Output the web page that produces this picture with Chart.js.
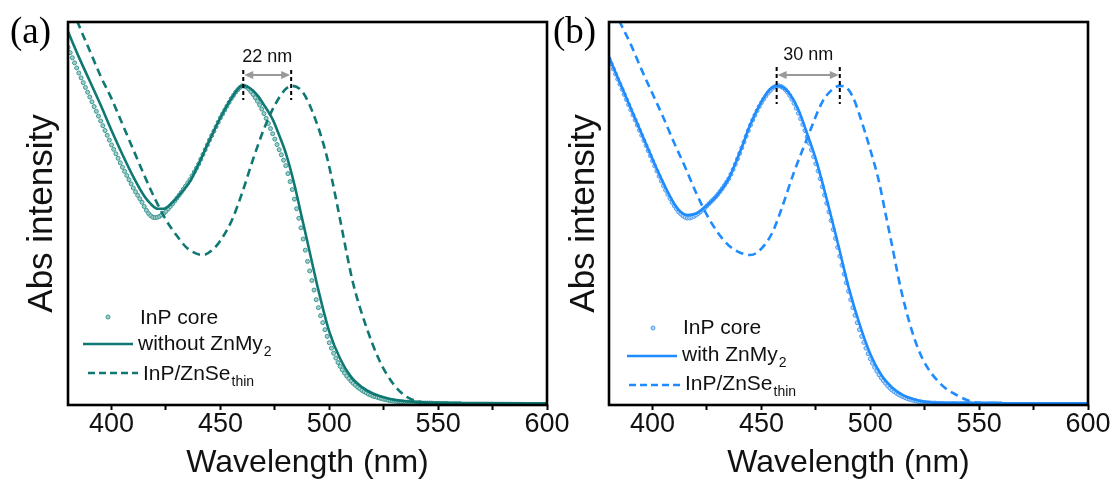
<!DOCTYPE html>
<html>
<head>
<meta charset="utf-8">
<script src="https://cdn.jsdelivr.net/npm/chart.js@4.4.1/dist/chart.umd.min.js"></script>
<style>
  html, body { margin: 0; padding: 0; background: #fff; }
  #wrap { position: relative; width: 1118px; height: 490px; overflow: hidden; background: #fff; }
  canvas { position: absolute; top: 0; }
  #chartA { left: 0; }
  #chartB { left: 545px; }
</style>
</head>
<body>
<div id="wrap">
  <canvas id="chartA" width="580" height="490"></canvas>
  <canvas id="chartB" width="573" height="490"></canvas>
</div>
<script>
// x axis
const xMin = 380;
const xMax = 600;
const xTicks = [400, 425, 450, 475, 500, 525, 550, 575, 600];

// InP core, sampled every nm from 380 to 560
const coreStart = 380;
const coreA = [
  1.120, 1.104, 1.088, 1.072, 1.056, 1.040, 1.025, 1.010, 0.995, 0.980,
  0.965, 0.950, 0.935, 0.920, 0.905, 0.890, 0.875, 0.860, 0.845, 0.830,
  0.815, 0.801, 0.787, 0.773, 0.759, 0.745, 0.732, 0.719, 0.706, 0.693,
  0.680, 0.668, 0.657, 0.646, 0.635, 0.622, 0.610, 0.600, 0.593, 0.588,
  0.587, 0.588, 0.591, 0.595, 0.600, 0.607, 0.614, 0.622, 0.630, 0.639,
  0.648, 0.657, 0.666, 0.676, 0.686, 0.696, 0.706, 0.718, 0.730, 0.742,
  0.755, 0.770, 0.785, 0.800, 0.815, 0.830, 0.844, 0.858, 0.872, 0.886,
  0.900, 0.912, 0.924, 0.936, 0.948, 0.960, 0.970, 0.980, 0.988, 0.995,
  1.000, 0.999, 0.996, 0.990, 0.982, 0.973, 0.963, 0.952, 0.940, 0.927,
  0.913, 0.898, 0.882, 0.866, 0.850, 0.833, 0.816, 0.800, 0.784, 0.767,
  0.750, 0.725, 0.700, 0.675, 0.645, 0.615, 0.585, 0.555, 0.520, 0.485,
  0.450, 0.420, 0.390, 0.360, 0.330, 0.305, 0.280, 0.258, 0.236, 0.215,
  0.195, 0.178, 0.162, 0.147, 0.133, 0.121, 0.110, 0.100, 0.091, 0.083,
  0.075, 0.068, 0.062, 0.056, 0.051, 0.046, 0.042, 0.038, 0.034, 0.031,
  0.028, 0.026, 0.024, 0.022, 0.020, 0.018, 0.017, 0.015, 0.014, 0.013,
  0.012, 0.011, 0.011, 0.010, 0.010, 0.009, 0.009, 0.008, 0.008, 0.008,
  0.007, 0.007, 0.007, 0.006, 0.006, 0.006, 0.006, 0.006, 0.005, 0.005,
  0.005, 0.005, 0.005, 0.005, 0.005, 0.004, 0.004, 0.004, 0.004, 0.004, 0.004
];
const coreB = [
  1.085, 1.069, 1.053, 1.037, 1.021, 1.005, 0.989, 0.973, 0.957, 0.941,
  0.925, 0.909, 0.893, 0.877, 0.861, 0.845, 0.829, 0.813, 0.797, 0.781,
  0.765, 0.749, 0.733, 0.717, 0.702, 0.687, 0.673, 0.660, 0.647, 0.635,
  0.624, 0.614, 0.605, 0.598, 0.592, 0.588, 0.586, 0.586, 0.588, 0.591,
  0.595, 0.600, 0.605, 0.611, 0.617, 0.624, 0.631, 0.638, 0.645, 0.652,
  0.660, 0.669, 0.678, 0.688, 0.698, 0.709, 0.723, 0.738, 0.754, 0.771,
  0.788, 0.806, 0.824, 0.842, 0.860, 0.877, 0.893, 0.908, 0.922, 0.935,
  0.947, 0.958, 0.968, 0.977, 0.985, 0.992, 0.997, 1.000, 1.000, 0.998,
  0.994, 0.988, 0.980, 0.970, 0.958, 0.945, 0.930, 0.914, 0.897, 0.879,
  0.860, 0.840, 0.820, 0.799, 0.778, 0.756, 0.733, 0.709, 0.684, 0.658,
  0.632, 0.605, 0.578, 0.550, 0.522, 0.494, 0.466, 0.438, 0.410, 0.383,
  0.356, 0.330, 0.305, 0.281, 0.258, 0.236, 0.215, 0.196, 0.178, 0.161,
  0.145, 0.131, 0.118, 0.106, 0.095, 0.085, 0.076, 0.068, 0.060, 0.053,
  0.047, 0.042, 0.037, 0.033, 0.029, 0.026, 0.023, 0.020, 0.018, 0.016,
  0.014, 0.013, 0.011, 0.010, 0.009, 0.008, 0.007, 0.007, 0.006, 0.006,
  0.006, 0.005, 0.005, 0.005, 0.005, 0.005, 0.005, 0.005, 0.005, 0.005,
  0.005, 0.005, 0.005, 0.005, 0.005, 0.005, 0.005, 0.004, 0.004, 0.004,
  0.004, 0.004, 0.004, 0.004, 0.004, 0.004, 0.004, 0.004, 0.004, 0.004, 0.004
];

// (a) without ZnMy2
const solidA_nm  = [380, 385, 390, 395, 400, 405, 410, 415, 418, 421, 424, 428, 432, 436, 440, 445, 450, 455, 460, 463, 467, 470, 474, 477, 480, 484, 487, 490, 495, 500, 505, 510, 515, 520, 525, 530, 535, 540, 550, 570, 600];
const solidA_val = [1.17, 1.09, 1.015, 0.94, 0.86, 0.785, 0.715, 0.655, 0.63, 0.615, 0.615, 0.635, 0.665, 0.70, 0.755, 0.83, 0.90, 0.96, 1.0, 0.995, 0.97, 0.94, 0.895, 0.845, 0.79, 0.69, 0.60, 0.51, 0.36, 0.23, 0.145, 0.088, 0.056, 0.036, 0.024, 0.016, 0.012, 0.009, 0.007, 0.006, 0.005];

// (a) InP/ZnSe thin
const dashA_nm  = [380, 385, 390, 395, 400, 405, 410, 415, 420, 425, 430, 435, 442, 447, 450, 455, 460, 465, 470, 475, 480, 483, 488, 494, 499, 504, 507, 511, 517, 523, 529, 535, 543, 550, 600];
const dashA_val = [1.28, 1.19, 1.11, 1.03, 0.96, 0.88, 0.80, 0.72, 0.645, 0.58, 0.53, 0.49, 0.47, 0.49, 0.515, 0.575, 0.665, 0.77, 0.865, 0.94, 0.99, 1.0, 0.978, 0.888, 0.775, 0.615, 0.51, 0.38, 0.245, 0.14, 0.07, 0.028, 0.008, 0.005, 0.004];

// (b) with ZnMy2
const solidB_nm  = [380, 385, 390, 395, 400, 405, 410, 413, 416, 420, 425, 430, 435, 440, 445, 450, 454, 457, 460, 463, 467, 471, 475, 480, 485, 490, 495, 500, 505, 510, 515, 520, 525, 530, 540, 600];
const solidB_val = [1.09, 1.01, 0.93, 0.85, 0.77, 0.695, 0.63, 0.605, 0.595, 0.60, 0.625, 0.66, 0.71, 0.79, 0.88, 0.95, 0.99, 1.0, 0.995, 0.975, 0.925, 0.85, 0.77, 0.645, 0.51, 0.37, 0.255, 0.16, 0.095, 0.055, 0.031, 0.018, 0.01, 0.007, 0.005, 0.005];

// (b) InP/ZnSe thin
const dashB_nm  = [380, 385, 390, 395, 400, 405, 410, 415, 420, 425, 430, 435, 440, 445, 450, 455, 459, 465, 471, 478, 482, 486, 489, 492, 495, 500, 504, 507, 510, 514, 519, 524, 532, 540, 547, 555, 600];
const dashB_val = [1.28, 1.2, 1.13, 1.05, 0.975, 0.90, 0.82, 0.745, 0.665, 0.595, 0.54, 0.50, 0.478, 0.47, 0.49, 0.54, 0.61, 0.73, 0.835, 0.95, 0.985, 1.0, 0.995, 0.965, 0.91, 0.80, 0.70, 0.60, 0.50, 0.365, 0.235, 0.145, 0.068, 0.03, 0.01, 0.006, 0.005];

// peak shift markers (nm) and their labels
const shiftA = [460.5, 482.5];
const shiftB = [457, 486];
const shiftLabelA = '22 nm';
const shiftLabelB = '30 nm';

const legendA = [['InP core', ''], ['without ZnMy', '2'], ['InP/ZnSe', 'thin']];
const legendB = [['InP core', ''], ['with ZnMy', '2'], ['InP/ZnSe', 'thin']];

const SANS = '"Liberation Sans", Arial, sans-serif';

function toPoints(nm, val) {
    return nm.map((x, i) => ({ x: x, y: val[i] }));
}

function corePoints(vals) {
    return vals.map((v, i) => ({ x: coreStart + i, y: v }));
}

function richText(ctx, x, y, main, sub, size) {
    ctx.font = size + 'px ' + SANS;
    ctx.textAlign = 'left';
    ctx.textBaseline = 'middle';
    ctx.fillText(main, x, y);
    if (sub) {
        const w = ctx.measureText(main).width;
        ctx.font = Math.round(size * 0.66) + 'px ' + SANS;
        ctx.fillText(sub, x + w + 1, y + size * 0.38);
    }
}

// frame, panel letter, peak shift arrow and legend
const decorPlugin = {
    id: 'decor',
    afterDraw(chart, args, o) {
        const { ctx, chartArea: a, scales } = chart;
        const x = scales.x;
        ctx.save();

        ctx.strokeStyle = '#000';
        ctx.lineWidth = 2.6;
        ctx.strokeRect(a.left, a.top, a.right - a.left, a.bottom - a.top);

        ctx.fillStyle = '#000';
        ctx.font = '37px "Liberation Serif", "Times New Roman", serif';
        ctx.textAlign = 'left';
        ctx.textBaseline = 'middle';
        ctx.fillText(o.letter, o.letterX, 33);

        // peak shift
        const x1 = x.getPixelForValue(o.shift[0]);
        const x2 = x.getPixelForValue(o.shift[1]);
        const yA = o.arrowY;
        ctx.setLineDash([4, 3]);
        ctx.lineWidth = 2;
        o.shift.forEach(s => {
            const px = x.getPixelForValue(s);
            ctx.beginPath();
            ctx.moveTo(px, o.markTop);
            ctx.lineTo(px, o.markBottom);
            ctx.stroke();
        });
        ctx.setLineDash([]);
        ctx.strokeStyle = '#999';
        ctx.fillStyle = '#999';
        ctx.lineWidth = 2;
        ctx.beginPath();
        ctx.moveTo(x1 + 6, yA);
        ctx.lineTo(x2 - 6, yA);
        ctx.stroke();
        [[x1, 1], [x2, -1]].forEach(([px, d]) => {
            ctx.beginPath();
            ctx.moveTo(px + 1 * d, yA);
            ctx.lineTo(px + 10 * d, yA - 4);
            ctx.lineTo(px + 10 * d, yA + 4);
            ctx.closePath();
            ctx.fill();
        });
        ctx.fillStyle = '#111';
        ctx.font = '18px ' + SANS;
        ctx.textAlign = 'center';
        ctx.fillText(o.shiftLabel, (x1 + x2) / 2, o.labelY);

        // legend
        const lg = o.legend;
        ctx.fillStyle = o.dotFill;
        ctx.strokeStyle = o.dotEdge;
        ctx.lineWidth = 1;
        ctx.beginPath();
        ctx.arc(lg.dot[0], lg.dot[1], 2, 0, Math.PI * 2);
        ctx.fill();
        ctx.stroke();
        ctx.strokeStyle = o.color;
        ctx.lineWidth = 2.6;
        ctx.beginPath();
        ctx.moveTo(lg.solid[0], lg.solid[2]);
        ctx.lineTo(lg.solid[1], lg.solid[2]);
        ctx.stroke();
        ctx.setLineDash([7, 4]);
        ctx.beginPath();
        ctx.moveTo(lg.dash[0], lg.dash[2]);
        ctx.lineTo(lg.dash[1], lg.dash[2]);
        ctx.stroke();
        ctx.setLineDash([]);
        ctx.fillStyle = '#111';
        lg.text.forEach((t, i) => {
            richText(ctx, t[0], t[1], o.entries[i][0], o.entries[i][1], 21);
        });
        ctx.restore();
    }
};

function makePanel(id, p) {
    const datasets = [
        {
            label: 'InP core',
            data: corePoints(p.core),
            showLine: false,
            pointRadius: 2,
            pointBorderWidth: 1,
            pointBackgroundColor: p.dotFill,
            pointBorderColor: p.dotEdge,
            order: 3
        },
        {
            label: 'solid',
            data: toPoints(p.solid[0], p.solid[1]),
            borderColor: p.color,
            borderWidth: 2.6,
            pointRadius: 0,
            cubicInterpolationMode: 'monotone',
            order: 1
        },
        {
            label: 'dash',
            data: toPoints(p.dash[0], p.dash[1]),
            borderColor: p.color,
            borderWidth: 2.6,
            borderDash: [8, 5],
            pointRadius: 0,
            cubicInterpolationMode: 'monotone',
            order: 2
        }
    ];

    return new Chart(document.getElementById(id), {
        type: 'line',
        data: { datasets },
        options: {
            responsive: false,
            animation: false,
            events: [],
            layout: { padding: { top: 22, right: p.padRight, left: 0, bottom: 0 } },
            scales: {
                x: {
                    type: 'linear',
                    min: xMin,
                    max: xMax,
                    afterBuildTicks: s => {
                        s.ticks = xTicks.map(v => ({ value: v }));
                    },
                    afterFit: s => { s.height = 85; },
                    ticks: {
                        autoSkip: false,
                        maxRotation: 0,
                        color: '#111',
                        padding: -2,
                        font: { size: 27, family: SANS },
                        callback: v => (v % 50 === 0 ? v : '')
                    },
                    grid: {
                        drawOnChartArea: false,
                        drawTicks: true,
                        tickLength: 5,
                        tickWidth: 2,
                        tickColor: '#000'
                    },
                    border: { display: false },
                    title: {
                        display: true,
                        text: 'Wavelength (nm)',
                        color: '#111',
                        font: { size: 32, family: SANS },
                        padding: { top: 0, bottom: 8 }
                    }
                },
                y: {
                    min: 0,
                    max: 1.2,
                    afterFit: s => { s.width = p.axisWidth; },
                    ticks: { display: false },
                    grid: { display: false },
                    border: { display: false },
                    title: {
                        display: true,
                        text: 'Abs intensity',
                        color: '#111',
                        font: { size: 35, family: SANS },
                        padding: { top: p.titlePad, bottom: 0 }
                    }
                }
            },
            plugins: {
                legend: { display: false },
                tooltip: { enabled: false },
                decor: p.decor
            }
        },
        plugins: [decorPlugin]
    });
}

document.addEventListener('DOMContentLoaded', () => {
    const teal = '#107873';
    const blue = '#1e8bff';

    makePanel('chartA', {
        core: coreA,
        solid: [solidA_nm, solidA_val],
        dash: [dashA_nm, dashA_val],
        color: teal,
        dotFill: '#a3d2ce',
        dotEdge: '#3a9690',
        padRight: 33,
        axisWidth: 68,
        titlePad: 21,
        decor: {
            letter: '(a)', letterX: 10,
            shift: shiftA, shiftLabel: shiftLabelA,
            arrowY: 75, markTop: 70, markBottom: 100, labelY: 57,
            color: teal, dotFill: '#a3d2ce', dotEdge: '#3a9690',
            entries: legendA,
            legend: {
                dot: [108, 317],
                solid: [83, 133, 344],
                dash: [88, 138, 373],
                text: [[140, 318], [138, 344], [143, 374]]
            }
        }
    });

    makePanel('chartB', {
        core: coreB,
        solid: [solidB_nm, solidB_val],
        dash: [dashB_nm, dashB_val],
        color: blue,
        dotFill: '#b5d6fb',
        dotEdge: '#4c9ef2',
        padRight: 30,
        axisWidth: 64,
        titlePad: 18,
        decor: {
            letter: '(b)', letterX: 8,
            shift: shiftB, shiftLabel: shiftLabelB,
            arrowY: 75, markTop: 67, markBottom: 104, labelY: 55,
            color: blue, dotFill: '#b5d6fb', dotEdge: '#4c9ef2',
            entries: legendB,
            legend: {
                dot: [108, 328],
                solid: [82, 132, 356],
                dash: [84, 135, 385],
                text: [[138, 328], [137, 355], [140, 384]]
            }
        }
    });
});
</script>
</body>
</html>
